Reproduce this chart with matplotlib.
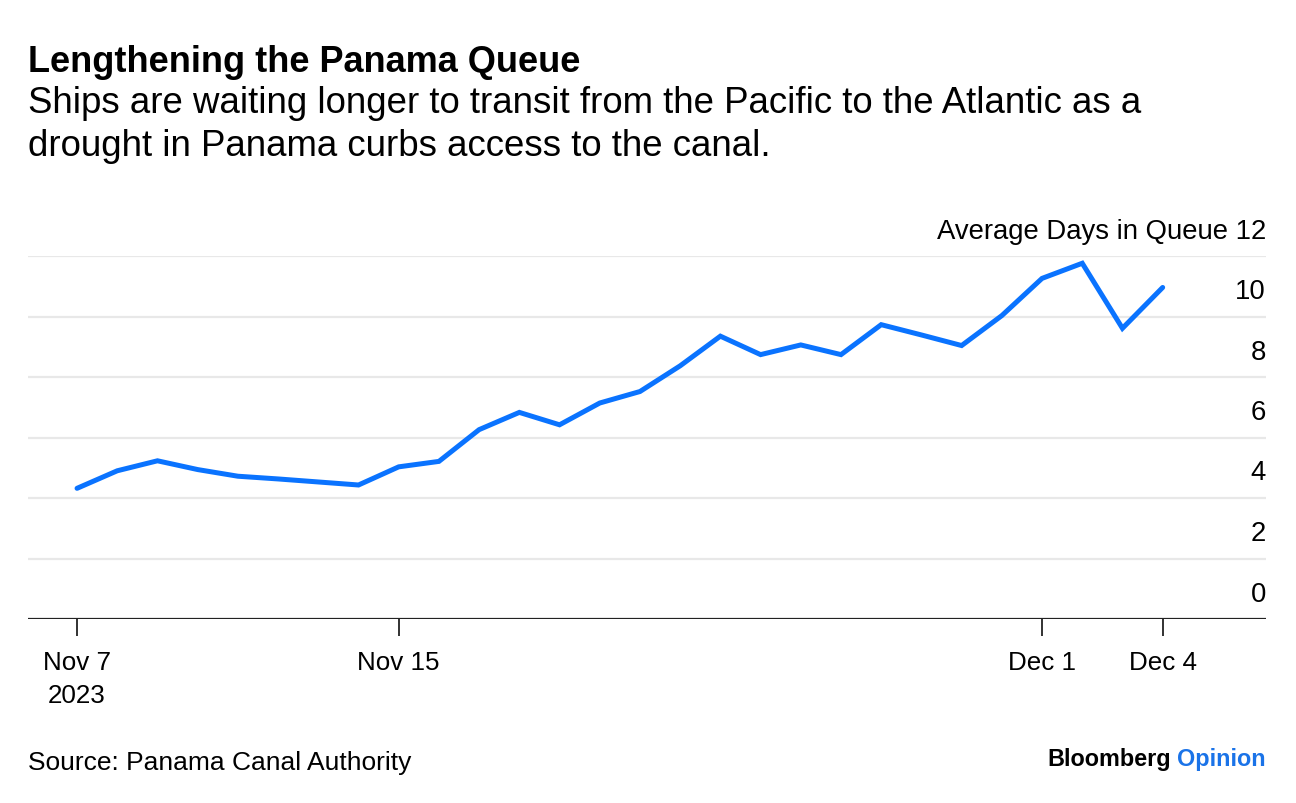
import numpy as np
import pandas as pd
import matplotlib
matplotlib.use("Agg")
import matplotlib.pyplot as plt
import matplotlib.transforms as mtransforms

plt.rcParams['font.family'] = ['Liberation Sans', 'DejaVu Sans']

dates = pd.date_range('2023-11-07', '2023-12-04', freq='D')
days_in_queue = [4.32, 4.90, 5.23, 4.94, 4.72, 4.63, 4.53, 4.43, 5.03, 5.21,
                 6.26, 6.83, 6.42, 7.14, 7.52, 8.37, 9.35, 8.74, 9.06, 8.74,
                 9.73, 9.39, 9.04, 10.03, 11.26, 11.76, 9.61, 10.96]
tick_dates = pd.to_datetime(['2023-11-07', '2023-11-15', '2023-12-01', '2023-12-04'])
tick_labels = ['Nov 7\n2023', 'Nov 15', 'Dec 1', 'Dec 4']
y_ticks = [0, 2, 4, 6, 8, 10, 12]

W, H = 1296, 804
fig = plt.figure(figsize=(W / 100, H / 100), dpi=100)
ax = fig.add_axes([28 / W, 1 - 620 / H, (1266 - 28) / W, (620 - 257) / H])

ax.plot(dates, days_in_queue, color='#0a73ff', lw=3.6, solid_joinstyle='miter',
        solid_capstyle='round', zorder=3)

x0 = dates[0] - pd.Timedelta(days=1.22)
x1 = dates[-1] + pd.Timedelta(days=2.57)
ax.set_xlim(x0, x1)
ax.set_ylim(0, 12)

for v in y_ticks[1:]:
    ax.axhline(v, color='#e8e8e8', lw=1.6, zorder=1)
ax.axhline(0, color='#222222', lw=1.6, zorder=2)

for s in ax.spines.values():
    s.set_visible(False)
ax.set_yticks([])
ax.set_xticks(tick_dates)
ax.set_xticklabels(tick_labels, fontsize=18.7, linespacing=1.5)
ax.tick_params(axis='x', length=12, width=1.3, color='#222222', pad=10)
for lbl in ax.get_xticklabels():
    lbl.set_verticalalignment('top')

trans = mtransforms.blended_transform_factory(ax.transAxes, ax.transData)
off = mtransforms.offset_copy(trans, fig=fig, x=0, y=9, units='points')
for v in y_ticks:
    txt = str(v) if v != 12 else 'Average Days in Queue 12'
    ax.text(1.0, v, txt, transform=off, ha='right', va='bottom', fontsize=19.8)

fig.text(28 / W, 1 - 62 / H, 'Lengthening the Panama Queue', fontsize=26,
         fontweight='bold', ha='left', va='center')
fig.text(28 / W, 1 - 125 / H,
         'Ships are waiting longer to transit from the Pacific to the Atlantic as a\n'
         'drought in Panama curbs access to the canal.',
         fontsize=26.4, ha='left', va='center', linespacing=1.3)
fig.text(28 / W, 1 - 763 / H, 'Source: Panama Canal Authority', fontsize=19,
         ha='left', va='center')
t2 = fig.text(1266 / W, 1 - 760 / H, 'Opinion', fontsize=16.8, fontweight='bold',
              color='#1a73e8', ha='right', va='center')
fig.canvas.draw()
bb = t2.get_window_extent()
fig.text((bb.x0 - 6) / W, 1 - 760 / H, 'Bloomberg', fontsize=16.8,
         fontweight='bold', color='black', ha='right', va='center')

fig.savefig('out.png', dpi=100)
